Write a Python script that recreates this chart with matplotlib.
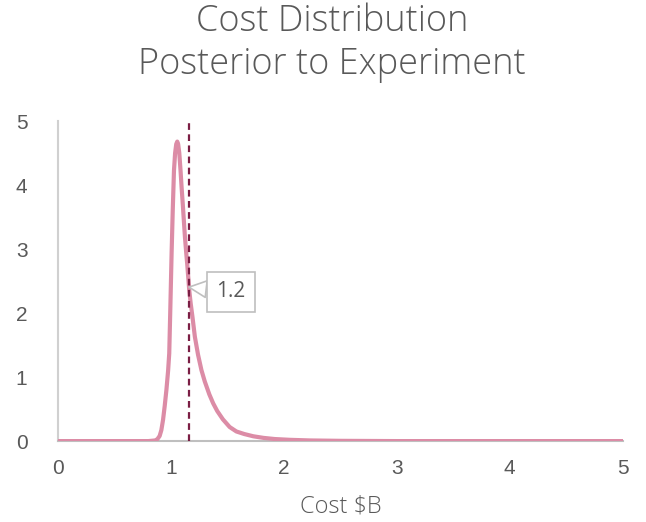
import matplotlib.pyplot as plt

# points
cost = [0.0, 0.5, 0.8, 0.86, 0.88, 0.9, 0.915, 0.93, 0.945, 0.96, 0.975, 0.985,
        0.995, 1.006, 1.016, 1.027, 1.037, 1.047, 1.056, 1.064, 1.074, 1.085,
        1.095, 1.105, 1.115, 1.124, 1.135, 1.145, 1.162, 1.175, 1.19, 1.212,
        1.24, 1.27, 1.3, 1.34, 1.374, 1.41, 1.46, 1.52, 1.58, 1.65, 1.73, 1.82,
        1.92, 2.05, 2.23, 2.5, 3.0, 4.0, 5.0]
density = [0.0, 0.0, 0.0, 0.01, 0.03, 0.08, 0.17, 0.33, 0.55, 0.8, 1.1, 1.37,
           2.1, 2.94, 3.6, 4.23, 4.5, 4.64, 4.68, 4.64, 4.5, 4.23,
           3.95, 3.7, 3.43, 3.19, 2.95, 2.75, 2.36, 2.15, 1.95, 1.63,
           1.35, 1.11, 0.93, 0.73, 0.59, 0.47, 0.34, 0.22, 0.15, 0.11, 0.075, 0.05,
           0.032, 0.02, 0.01, 0.004, 0.0, 0.0, 0.0]
expected = 1.16
label = '1.2'

fig = plt.figure(figsize=(6.46, 5.22), dpi=100)
ax = fig.add_axes([0.0898, 0.155, 0.874, 0.613])

ax.plot(cost, density, color='#dc8ca6', linewidth=3, solid_joinstyle='round', zorder=3)
ax.axvline(expected, color='#7b1e44', linestyle=(0, (3, 2)), linewidth=1.6, zorder=4)

# curve height at expected value for the callout
for i in range(len(cost) - 1):
    if cost[i] <= expected <= cost[i + 1]:
        t = (expected - cost[i]) / (cost[i + 1] - cost[i])
        yval = density[i] + t * (density[i + 1] - density[i])
        break

ax.annotate(label, xy=(expected, yval), xytext=(1.53, 2.33),
            fontsize=15, color='#595959', family='Open Sans', ha='center', va='center',
            bbox=dict(boxstyle='square,pad=0.45', fc='white', ec='#bfbfbf', lw=1.2),
            arrowprops=dict(arrowstyle='wedge,tail_width=0.8,shrink_factor=0.5',
                            fc='white', ec='#bfbfbf', lw=1.2, shrinkA=0, shrinkB=0),
            zorder=5)

ax.set_xlim(0, 5)
ax.set_ylim(0, 5)
ax.set_xticks([0, 1, 2, 3, 4, 5])
ax.set_yticks([0, 1, 2, 3, 4, 5])
ax.tick_params(length=0, labelsize=15, labelcolor='#595959')
ax.tick_params(axis='x', pad=13)
ax.tick_params(axis='y', pad=22)
for lab in ax.get_xticklabels() + ax.get_yticklabels():
    lab.set_family('Liberation Sans')

for s in ['top', 'right']:
    ax.spines[s].set_visible(False)
ax.spines['left'].set_color('#d0d0d0')
ax.spines['bottom'].set_color('#bfbfbf')
ax.spines['left'].set_linewidth(1.5)
ax.spines['bottom'].set_linewidth(1.5)

ax.set_xlabel('Cost $B', fontsize=17, color='#595959', family='Open Sans',
              fontweight='light', labelpad=12)
fig.suptitle('Cost Distribution\nPosterior to Experiment', fontsize=26, color='#595959',
             family='Open Sans', fontweight='light', x=0.514, y=0.995, linespacing=1.22)

fig.savefig('out.png', dpi=100)
